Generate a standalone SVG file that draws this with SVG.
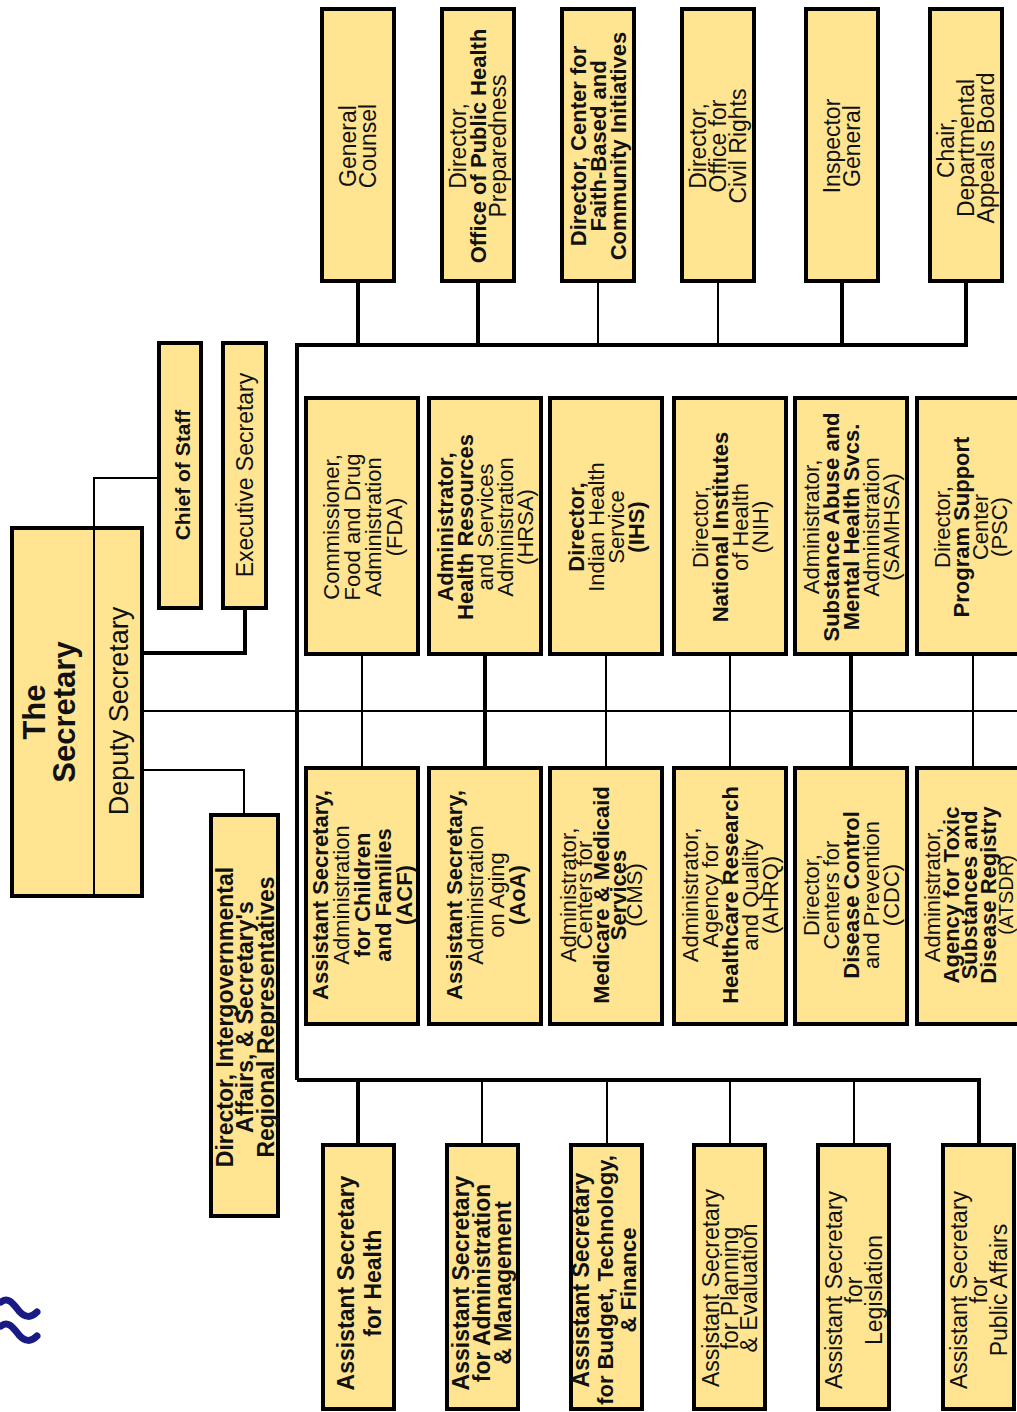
<svg xmlns="http://www.w3.org/2000/svg" width="1017" height="1412" viewBox="0 0 1017 1412">
<style>
.box{fill:#FFE591;stroke:#000;stroke-width:4}
.t{font-family:"Liberation Sans",Arial,sans-serif;font-size:22px;fill:#111;text-anchor:middle}
.t23{font-size:23px}
.b{font-weight:bold}
.thick{stroke:#000;stroke-width:4;fill:none}
.thin{stroke:#000;stroke-width:2;fill:none}
</style>
<rect width="1017" height="1412" fill="#fff"/>

<g id="connectors">
  <path class="thin" d="M94,528 V478 H159"/>
  <path class="thick" d="M142,653 H245 V608"/>
  <path class="thin" d="M142,711 H1017"/>
  <path class="thin" d="M142,770 H244 V815"/>
  <path class="thick" d="M297,1080 V345 H966 V281"/>
  <path class="thick" d="M358,345 V281 M478,345 V281 M842,345 V281"/>
  <path class="thin" d="M598,345 V281 M718,345 V281"/>
  <path class="thin" d="M362,654 V768 M606,654 V768 M730,654 V768 M973,654 V768"/>
  <path class="thick" d="M485,654 V768 M851,654 V768"/>
  <path class="thick" d="M297,1080 H979 V1145 M358,1080 V1145"/>
  <path class="thin" d="M482,1080 V1145 M607,1080 V1145 M730,1080 V1145 M854,1080 V1145"/>
</g>

<g id="secretary">
  <rect class="box" x="12" y="528" width="130" height="368"/>
  <line class="thin" x1="94" y1="528" x2="94" y2="896"/>
  <text class="t b" style="font-size:31px" transform="translate(52,712) rotate(-90)"><tspan x="0" y="-7">The</tspan><tspan x="0" y="23">Secretary</tspan></text>
  <text class="t" style="font-size:27px" transform="translate(118,711) rotate(-90)"><tspan x="0" y="10">Deputy Secretary</tspan></text>
</g>

<g id="chief-of-staff">
  <rect class="box" x="159" y="343" width="42" height="265"/>
  <text class="t b" style="font-size:21px" transform="translate(180,475) rotate(-90)"><tspan x="0" y="10">Chief of Staff</tspan></text>
</g>
<g id="executive-secretary">
  <rect class="box" x="223" y="343" width="43" height="265"/>
  <text class="t t23" transform="translate(244,475) rotate(-90)"><tspan x="0" y="9">Executive Secretary</tspan></text>
</g>
<g id="intergovernmental">
  <rect class="box" x="211" y="815" width="67" height="401"/>
  <text class="t t23 b" transform="translate(244.5,1017) rotate(-90)"><tspan x="0" y="-11.5">Director, Intergovernmental</tspan><tspan x="0" y="8.5">Affairs, &amp; Secretary's</tspan><tspan x="0" y="29.5">Regional Representatives</tspan></text>
</g>

<!-- top row -->
<g id="general-counsel">
  <rect class="box" x="322" y="9" width="72" height="272"/>
  <text class="t t23" transform="translate(358,146) rotate(-90)"><tspan x="0" y="-2">General</tspan><tspan x="0" y="18">Counsel</tspan></text>
</g>
<g id="ophp">
  <rect class="box" x="442" y="9" width="72" height="272"/>
  <text class="t t23" transform="translate(478,146) rotate(-90)"><tspan x="0" y="-12">Director,</tspan><tspan x="0" y="8" class="b" style="font-size:22px">Office of Public Health</tspan><tspan x="0" y="28">Preparedness</tspan></text>
</g>
<g id="fbci">
  <rect class="box" x="562" y="9" width="72" height="272"/>
  <text class="t b" transform="translate(598,146) rotate(-90)"><tspan x="0" y="-12">Director, Center for</tspan><tspan x="0" y="8">Faith-Based and</tspan><tspan x="0" y="28">Community Initiatives</tspan></text>
</g>
<g id="ocr">
  <rect class="box" x="682" y="9" width="72" height="272"/>
  <text class="t t23" transform="translate(718,146) rotate(-90)"><tspan x="0" y="-12">Director,</tspan><tspan x="0" y="8">Office for</tspan><tspan x="0" y="28">Civil Rights</tspan></text>
</g>
<g id="oig">
  <rect class="box" x="806" y="9" width="72" height="272"/>
  <text class="t t23" transform="translate(842,146) rotate(-90)"><tspan x="0" y="-2">Inspector</tspan><tspan x="0" y="18">General</tspan></text>
</g>
<g id="dab">
  <rect class="box" x="930" y="9" width="72" height="272"/>
  <text class="t t23" transform="translate(966,148) rotate(-90)"><tspan x="0" y="-12">Chair,</tspan><tspan x="0" y="8">Departmental</tspan><tspan x="0" y="28">Appeals Board</tspan></text>
</g>

<!-- middle top row -->
<g id="fda">
  <rect class="box" x="306" y="398" width="112" height="256"/>
  <text class="t" transform="translate(362,527) rotate(-90)"><tspan x="0" y="-23.5">Commissioner,</tspan><tspan x="0" y="-2.5">Food and Drug</tspan><tspan x="0" y="18.5">Administration</tspan><tspan x="0" y="39.5">(FDA)</tspan></text>
</g>
<g id="hrsa">
  <rect class="box" x="429" y="398" width="112" height="256"/>
  <text class="t" transform="translate(485,527) rotate(-90)"><tspan x="0" y="-32" class="b">Administrator,</tspan><tspan x="0" y="-12" class="b">Health Resources</tspan><tspan x="0" y="8">and Services</tspan><tspan x="0" y="28">Administration</tspan><tspan x="0" y="48">(HRSA)</tspan></text>
</g>
<g id="ihs">
  <rect class="box" x="550" y="398" width="112" height="256"/>
  <text class="t" transform="translate(606,527) rotate(-90)"><tspan x="0" y="-22" class="b">Director,</tspan><tspan x="0" y="-2">Indian Health</tspan><tspan x="0" y="18">Service</tspan><tspan x="0" y="38" class="b">(IHS)</tspan></text>
</g>
<g id="nih">
  <rect class="box" x="674" y="398" width="112" height="256"/>
  <text class="t" transform="translate(730,527) rotate(-90)"><tspan x="0" y="-22">Director,</tspan><tspan x="0" y="-2" class="b">National Institutes</tspan><tspan x="0" y="18">of Health</tspan><tspan x="0" y="38">(NIH)</tspan></text>
</g>
<g id="samhsa">
  <rect class="box" x="795" y="398" width="112" height="256"/>
  <text class="t" transform="translate(851,527) rotate(-90)"><tspan x="0" y="-32">Administrator,</tspan><tspan x="0" y="-12" class="b">Substance Abuse and</tspan><tspan x="0" y="8" class="b">Mental Health Svcs.</tspan><tspan x="0" y="28">Administration</tspan><tspan x="0" y="48">(SAMHSA)</tspan></text>
</g>
<g id="psc">
  <rect class="box" x="917" y="398" width="112" height="256"/>
  <text class="t" transform="translate(971,527) rotate(-90)"><tspan x="0" y="-21">Director,</tspan><tspan x="0" y="-2" class="b">Program Support</tspan><tspan x="0" y="17">Center</tspan><tspan x="0" y="36">(PSC)</tspan></text>
</g>

<!-- middle bottom row -->
<g id="acf">
  <rect class="box" x="306" y="768" width="112" height="256"/>
  <text class="t" transform="translate(362,895) rotate(-90)"><tspan x="0" y="-34" class="b">Assistant Secretary,</tspan><tspan x="0" y="-13">Administration</tspan><tspan x="0" y="8" class="b">for Children</tspan><tspan x="0" y="29" class="b">and Families</tspan><tspan x="0" y="50" class="b">(ACF)</tspan></text>
</g>
<g id="aoa">
  <rect class="box" x="429" y="768" width="112" height="256"/>
  <text class="t" transform="translate(485,895) rotate(-90)"><tspan x="0" y="-23.5" class="b">Assistant Secretary,</tspan><tspan x="0" y="-2.5">Administration</tspan><tspan x="0" y="18.5">on Aging</tspan><tspan x="0" y="39.5" class="b">(AoA)</tspan></text>
</g>
<g id="cms">
  <rect class="box" x="550" y="768" width="112" height="256"/>
  <text class="t" transform="translate(600,895) rotate(-90)"><tspan x="0" y="-24">Administrator,</tspan><tspan x="0" y="-8">Centers for</tspan><tspan x="0" y="9" class="b">Medicare &amp; Medicaid</tspan><tspan x="0" y="26" class="b">Services</tspan><tspan x="0" y="42">(CMS)</tspan></text>
</g>
<g id="ahrq">
  <rect class="box" x="674" y="768" width="112" height="256"/>
  <text class="t" transform="translate(730,895) rotate(-90)"><tspan x="0" y="-32">Administrator,</tspan><tspan x="0" y="-12">Agency for</tspan><tspan x="0" y="8" class="b">Healthcare Research</tspan><tspan x="0" y="28">and Quality</tspan><tspan x="0" y="48">(AHRQ)</tspan></text>
</g>
<g id="cdc">
  <rect class="box" x="795" y="768" width="112" height="256"/>
  <text class="t" transform="translate(851,895) rotate(-90)"><tspan x="0" y="-32">Director,</tspan><tspan x="0" y="-12">Centers for</tspan><tspan x="0" y="8" class="b">Disease Control</tspan><tspan x="0" y="28">and Prevention</tspan><tspan x="0" y="48">(CDC)</tspan></text>
</g>
<g id="atsdr">
  <rect class="box" x="917" y="768" width="112" height="256"/>
  <text class="t" transform="translate(969,895) rotate(-90)"><tspan x="0" y="-29">Administrator,</tspan><tspan x="0" y="-10.5" class="b">Agency for Toxic</tspan><tspan x="0" y="8" class="b">Substances and</tspan><tspan x="0" y="26.5" class="b">Disease Registry</tspan><tspan x="0" y="44" style="font-size:20px">(ATSDR)</tspan></text>
</g>

<!-- bottom row -->
<g id="ash">
  <rect class="box" x="323" y="1145" width="71" height="264"/>
  <text class="t t23 b" transform="translate(358,1283) rotate(-90)"><tspan x="0" y="-4.5">Assistant Secretary</tspan><tspan x="0" y="22.5">for Health</tspan></text>
</g>
<g id="asam">
  <rect class="box" x="447" y="1145" width="71" height="264"/>
  <text class="t t23 b" transform="translate(482,1283) rotate(-90)"><tspan x="0" y="-13">Assistant Secretary</tspan><tspan x="0" y="8">for Administration</tspan><tspan x="0" y="29">&amp; Management</tspan></text>
</g>
<g id="asbtf">
  <rect class="box" x="571" y="1145" width="71" height="264"/>
  <text class="t b" transform="translate(605,1280) rotate(-90)"><tspan x="0" y="-16" style="font-size:23px">Assistant Secretary</tspan><tspan x="0" y="8">for Budget, Technology,</tspan><tspan x="0" y="31">&amp; Finance</tspan></text>
</g>
<g id="aspe">
  <rect class="box" x="694" y="1145" width="71" height="264"/>
  <text class="t t23" transform="translate(730,1288) rotate(-90)"><tspan x="0" y="-11">Assistant Secretary</tspan><tspan x="0" y="8">for Planning</tspan><tspan x="0" y="27">&amp; Evaluation</tspan></text>
</g>
<g id="asl">
  <rect class="box" x="818" y="1145" width="71" height="264"/>
  <text class="t t23" transform="translate(854,1290) rotate(-90)"><tspan x="0" y="-12">Assistant Secretary</tspan><tspan x="0" y="8">for</tspan><tspan x="0" y="28">Legislation</tspan></text>
</g>
<g id="aspa">
  <rect class="box" x="943" y="1145" width="71" height="264"/>
  <text class="t t23" transform="translate(979,1290) rotate(-90)"><tspan x="0" y="-12">Assistant Secretary</tspan><tspan x="0" y="8">for</tspan><tspan x="0" y="28">Public Affairs</tspan></text>
</g>

<g id="logo" fill="none" stroke="#1a1a85" stroke-width="7" stroke-linecap="round">
  <path d="M1,1302 C9,1296 14,1305 19,1311 C25,1318 31,1318 37,1312"/>
  <path d="M1,1326 C9,1320 14,1329 19,1335 C25,1342 31,1342 37,1336"/>
</g>
</svg>
